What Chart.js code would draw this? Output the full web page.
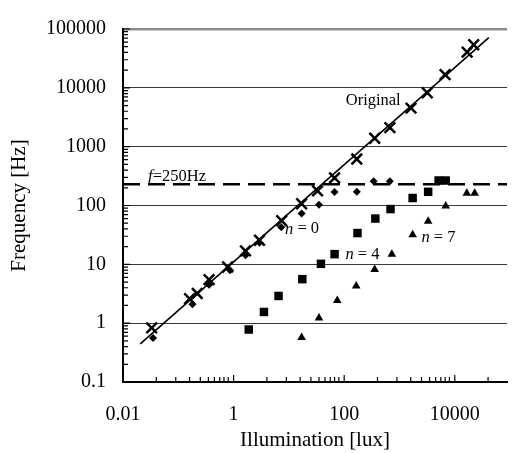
<!DOCTYPE html>
<html>
<head>
<meta charset="utf-8">
<script src="https://cdn.jsdelivr.net/npm/chart.js@4.4.0/dist/chart.umd.min.js"></script>
<style>
  html, body { margin: 0; padding: 0; background: #fff; }
</style>
</head>
<body>
<canvas id="freqChart" width="517" height="453"></canvas>
<script>
/* ================= Data ================= */

const originalX = [0.033, 0.16, 0.22, 0.36, 0.78, 1.64, 2.94, 7.4, 17, 33, 67, 169, 356, 671, 1614, 3177, 6680, 16750, 22000];
const originalY = [0.83, 2.6, 3.2, 5.5, 9.0, 16.9, 25.7, 55, 107, 177, 295, 616, 1390, 2110, 4530, 8240, 16800, 40400, 54000];

const n0X = [0.035, 0.18, 0.36, 0.86, 1.64, 2.94, 7.3, 17, 35, 67, 169, 341, 671];
const n0Y = [0.56, 2.1, 4.5, 7.9, 14.3, 23.2, 42.6, 73, 103, 170, 171, 259, 259];

const n4X = [1.88, 3.54, 6.5, 17.5, 38, 67, 174, 366, 689, 1730, 3300, 5100, 6860];
const n4Y = [0.78, 1.55, 2.9, 5.6, 10.2, 14.9, 34, 60, 87, 134, 171, 266, 266];

const n7X = [17, 35, 75, 165, 356, 728, 1730, 3300, 6860, 16500, 22900];
const n7Y = [0.57, 1.22, 2.42, 4.3, 8.2, 14.9, 31.8, 54, 98, 162, 162];

// power-law fit through the original points
const fitX = [0.0205, 41300];
const fitY = [0.445, 71500];

// f = 250 Hz limit
const limitX = [0.01, 88000];
const limitY = [230, 230];

const xTicks = [0.01, 1, 100, 10000];
const yTicks = [0.1, 1, 10, 100, 1000, 10000, 100000];
const xMinorSteps = [4, 9, 16, 25, 35, 45, 56, 67, 80];
const yMinorSteps = [2, 3, 4, 5, 6, 7, 8, 9];

const notes = [
  { x: 335, y: 6070, parts: [['Original', false]] },
  { x: 0.095, y: 304, parts: [['f', true], ['=250Hz', false]] },
  { x: 17.3, y: 39.6, parts: [['n', true], [' = 0', false]] },
  { x: 214, y: 14.4, parts: [['n', true], [' = 4', false]] },
  { x: 5060, y: 28.1, parts: [['n', true], [' = 7', false]] }
];

/* ================= Helpers / plugins ================= */

const FONT = "'Liberation Serif', 'Times New Roman', serif";
const pts = (xs, ys) => xs.map((x, i) => ({ x: x, y: ys[i] }));

// Excel-style tick marks drawn inside the plot area
const insideTicks = {
  id: 'insideTicks',
  beforeDatasetsDraw(chart) {
    const { ctx, chartArea: a, scales: { x, y } } = chart;
    ctx.save();
    ctx.strokeStyle = '#000';
    ctx.lineWidth = 1.2;
    ctx.beginPath();
    xTicks.forEach(m => {
      const px = x.getPixelForValue(m);
      ctx.moveTo(px, a.bottom); ctx.lineTo(px, a.bottom - 7);
      xMinorSteps.forEach(s => {
        if (m * s >= x.max) return;
        const q = x.getPixelForValue(m * s);
        ctx.moveTo(q, a.bottom); ctx.lineTo(q, a.bottom - 5);
      });
    });
    yTicks.forEach(m => {
      const py = y.getPixelForValue(m);
      ctx.moveTo(a.left, py); ctx.lineTo(a.left + 7, py);
      yMinorSteps.forEach(s => {
        if (m * s >= y.max) return;
        const q = y.getPixelForValue(m * s);
        ctx.moveTo(a.left, q); ctx.lineTo(a.left + 5, q);
      });
    });
    ctx.stroke();
    ctx.restore();
  }
};

// text labels placed at data coordinates
const noteLabels = {
  id: 'noteLabels',
  afterDatasetsDraw(chart) {
    const { ctx, scales: { x, y } } = chart;
    ctx.save();
    ctx.fillStyle = '#000';
    ctx.textBaseline = 'middle';
    notes.forEach(n => {
      const widths = n.parts.map(p => {
        ctx.font = (p[1] ? 'italic ' : '') + '16.5px ' + FONT;
        return ctx.measureText(p[0]).width;
      });
      let px = x.getPixelForValue(n.x) - widths.reduce((a, b) => a + b, 0) / 2;
      const py = y.getPixelForValue(n.y);
      n.parts.forEach((p, i) => {
        ctx.font = (p[1] ? 'italic ' : '') + '16.5px ' + FONT;
        ctx.fillText(p[0], px, py);
        px += widths[i];
      });
    });
    ctx.restore();
  }
};

/* ================= Chart ================= */

Chart.defaults.font.family = FONT;
Chart.defaults.color = '#000';

new Chart(document.getElementById('freqChart'), {
  type: 'scatter',
  data: {
    datasets: [
      {
        label: 'Original',
        data: pts(originalX, originalY),
        pointStyle: 'crossRot',
        pointRadius: 7.5,
        borderColor: '#000',
        borderWidth: 2.5
      },
      {
        label: 'n = 0',
        data: pts(n0X, n0Y),
        pointStyle: 'rectRot',
        pointRadius: 4,
        backgroundColor: '#000',
        borderColor: '#000',
        borderWidth: 0
      },
      {
        label: 'n = 4',
        data: pts(n4X, n4Y),
        pointStyle: 'rect',
        pointRadius: 6,
        backgroundColor: '#000',
        borderColor: '#000',
        borderWidth: 0
      },
      {
        label: 'n = 7',
        data: pts(n7X, n7Y),
        pointStyle: 'triangle',
        pointRadius: 5,
        backgroundColor: '#000',
        borderColor: '#000',
        borderWidth: 0
      },
      {
        label: 'fit',
        type: 'line',
        data: pts(fitX, fitY),
        borderColor: '#000',
        borderWidth: 1.6,
        pointRadius: 0,
        fill: false
      },
      {
        label: 'f=250Hz',
        type: 'line',
        data: pts(limitX, limitY),
        borderColor: '#000',
        borderWidth: 2.5,
        borderDash: [17, 8],
        pointRadius: 0,
        fill: false
      }
    ]
  },
  options: {
    responsive: false,
    animation: false,
    layout: { padding: { top: 20, right: 0, left: 0, bottom: 0 } },
    plugins: {
      legend: { display: false },
      tooltip: { enabled: false }
    },
    scales: {
      x: {
        type: 'logarithmic',
        min: 0.01,
        max: 88000,
        afterBuildTicks: s => { s.ticks = xTicks.map(v => ({ value: v })); },
        afterFit: s => { s.height = 71; },
        ticks: {
          autoSkip: false,
          maxRotation: 0,
          padding: 21,
          font: { size: 20 },
          callback: v => String(v)
        },
        grid: { display: false, drawTicks: false },
        border: { display: true, color: '#000', width: 2 },
        title: {
          display: true,
          text: 'Illumination [lux]',
          font: { size: 21 },
          padding: { top: 0, bottom: 0 }
        }
      },
      y: {
        type: 'logarithmic',
        min: 0.1,
        max: 100000,
        afterBuildTicks: s => { s.ticks = yTicks.map(v => ({ value: v })); },
        afterFit: s => { s.width = 123; },
        ticks: {
          autoSkip: false,
          padding: 17,
          font: { size: 20 },
          callback: v => String(v)
        },
        grid: {
          drawTicks: false,
          color: c => c.tick && c.tick.value === 100000 ? '#8c8c8c' : (c.tick && c.tick.value === 0.1 ? 'rgba(0,0,0,0)' : '#3a3a3a'),
          lineWidth: c => c.tick && c.tick.value === 100000 ? 2.5 : 1
        },
        border: { display: true, color: '#000', width: 2 },
        title: {
          display: true,
          text: 'Frequency [Hz]',
          font: { size: 21 },
          padding: { top: 7, bottom: 0 }
        }
      }
    }
  },
  plugins: [insideTicks, noteLabels]
});
</script>
</body>
</html>
